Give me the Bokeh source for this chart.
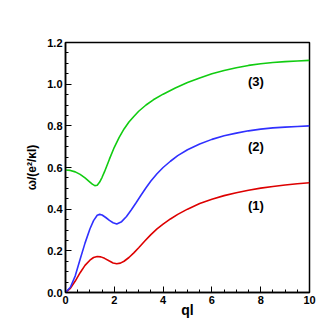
from bokeh.plotting import figure
from bokeh.embed import file_html
from bokeh.resources import INLINE
from bokeh.models import FixedTicker, Range1d, Label, CustomJSTickFormatter

# data
ql1 = [0, 0.2, 0.4, 0.6, 0.8, 1.0, 1.15, 1.3, 1.45, 1.6, 1.8, 1.95, 2.1, 2.25, 2.4, 2.6, 2.8, 3.0, 3.25, 3.5, 3.75, 4.0, 4.3, 4.6, 5.0, 5.5, 6.0, 6.5, 7.0, 7.5, 8.0, 8.5, 9.0, 9.5, 10.0]
red = [0, 0.02, 0.055, 0.095, 0.13, 0.155, 0.168, 0.173, 0.171, 0.164, 0.151, 0.142, 0.138, 0.141, 0.15, 0.168, 0.19, 0.215, 0.247, 0.278, 0.305, 0.328, 0.353, 0.375, 0.40, 0.427, 0.448, 0.465, 0.479, 0.491, 0.501, 0.509, 0.516, 0.522, 0.527]

ql2 = [0, 0.2, 0.4, 0.6, 0.8, 1.0, 1.15, 1.3, 1.4, 1.5, 1.65, 1.8, 1.95, 2.1, 2.3, 2.5, 2.7, 2.9, 3.1, 3.3, 3.5, 3.75, 4.0, 4.3, 4.6, 5.0, 5.5, 6.0, 6.5, 7.0, 7.5, 8.0, 8.5, 9.0, 9.5, 10.0]
blue = [0, 0.025, 0.08, 0.16, 0.237, 0.305, 0.345, 0.371, 0.375, 0.372, 0.36, 0.346, 0.335, 0.329, 0.34, 0.365, 0.397, 0.432, 0.468, 0.503, 0.535, 0.57, 0.60, 0.63, 0.657, 0.685, 0.713, 0.735, 0.752, 0.765, 0.776, 0.784, 0.79, 0.794, 0.797, 0.80]

ql3 = [0, 0.2, 0.4, 0.6, 0.8, 1.0, 1.1, 1.2, 1.3, 1.4, 1.5, 1.6, 1.8, 2.0, 2.2, 2.4, 2.6, 2.8, 3.0, 3.3, 3.6, 4.0, 4.5, 5.0, 5.5, 6.0, 6.5, 7.0, 7.5, 8.0, 8.5, 9.0, 9.5, 10.0]
green = [0.588, 0.586, 0.579, 0.567, 0.55, 0.53, 0.52, 0.513, 0.515, 0.53, 0.553, 0.58, 0.64, 0.697, 0.745, 0.785, 0.818, 0.845, 0.87, 0.90, 0.925, 0.952, 0.982, 1.008, 1.03, 1.05, 1.066, 1.079, 1.09, 1.098, 1.104, 1.108, 1.111, 1.114]

labels = ["(1)", "(2)", "(3)"]
label_x = [7.8, 7.8, 7.8]
label_y = [0.42, 0.70, 1.013]

x_major = [0, 2, 4, 6, 8, 10]
x_minor = [i * 0.5 for i in range(21)]
y_major = [0.0, 0.2, 0.4, 0.6, 0.8, 1.0, 1.2]
y_minor = [i * 0.05 for i in range(25)]

p = figure(width=328, height=328, output_backend="svg", toolbar_location=None,
           x_range=Range1d(0, 10), y_range=Range1d(0, 1.2),
           min_border_left=65, min_border_right=19, min_border_top=42, min_border_bottom=36)

p.line(ql1, red, line_color="#dd0000", line_width=1.6)
p.line(ql2, blue, line_color="#3030ff", line_width=1.6)
p.line(ql3, green, line_color="#11cc11", line_width=1.6)

for t, xx, yy in zip(labels, label_x, label_y):
    p.add_layout(Label(x=xx, y=yy, text=t, text_font="Liberation Sans", text_font_style="bold",
                       text_font_size="13px", text_align="center", text_baseline="middle",
                       text_color="black"))

p.grid.visible = False
p.outline_line_color = "black"
p.outline_line_width = 1.5

p.xaxis.ticker = FixedTicker(ticks=x_major, minor_ticks=x_minor)
p.yaxis.ticker = FixedTicker(ticks=y_major, minor_ticks=y_minor)
p.yaxis.formatter = CustomJSTickFormatter(code="return tick.toFixed(1);")

for ax in (p.xaxis[0], p.yaxis[0]):
    ax.major_tick_in = 6
    ax.major_tick_out = 0
    ax.minor_tick_in = 3
    ax.minor_tick_out = 0
    ax.axis_line_color = "black"
    ax.axis_line_width = 1.5
    ax.major_tick_line_color = "black"
    ax.minor_tick_line_color = "black"
    ax.major_label_text_font = "Liberation Sans"
    ax.major_label_text_font_style = "bold"
    ax.major_label_text_font_size = "11px"
    ax.major_label_text_color = "black"
    ax.axis_label_text_font = "Liberation Sans"
    ax.axis_label_text_font_style = "bold"
    ax.axis_label_text_color = "black"
    ax.major_label_standoff = 3

p.xaxis.axis_label = "ql"
p.xaxis.axis_label_text_font_size = "14px"
p.xaxis.axis_label_standoff = -5
p.yaxis.axis_label = "ω/(e²/κl)"
p.yaxis.axis_label_text_font_size = "12px"
p.yaxis.axis_label_standoff = 5

open("out.html", "w").write(file_html(p, INLINE))
